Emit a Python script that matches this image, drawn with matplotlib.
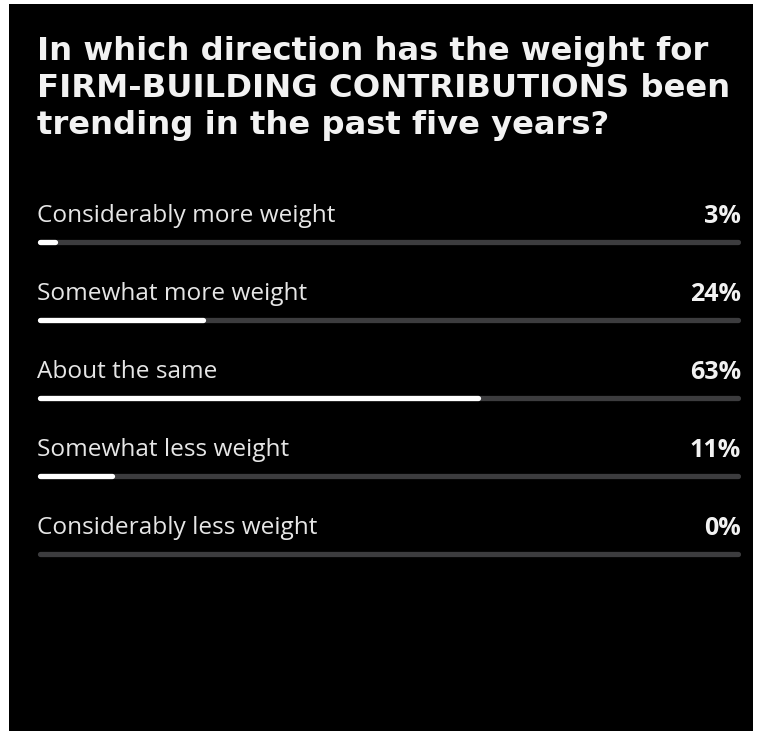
import matplotlib
matplotlib.use("Agg")
import matplotlib.pyplot as plt

# poll question and answers
title = ("In which direction has the weight for\n"
         "FIRM-BUILDING CONTRIBUTIONS been\n"
         "trending in the past five years?")
answers = ["Considerably more weight", "Somewhat more weight", "About the same",
           "Somewhat less weight", "Considerably less weight"]
shares = [3, 24, 63, 11, 0]

W, H = 759, 731
fig = plt.figure(figsize=(W / 100, H / 100), dpi=100)
fig.patch.set_facecolor("white")

# black card behind everything
bg = fig.add_axes([9 / W, 0, (753 - 9) / W, (731 - 4) / H])
bg.set_facecolor("black")
bg.set_xticks([])
bg.set_yticks([])
for s in bg.spines.values():
    s.set_visible(False)

fig.text(37 / W, 1 - 36 / H, title, color="#f2f2f2", fontsize=23.2,
         fontweight="bold", family="DejaVu Sans", va="top", ha="left",
         linespacing=1.245)

# bars area: track from x=37 to x=741 px, rows every 78 px starting at 242
top_px, bot_px = 242 - 78 * 0.6, 242 + 78 * 4.4
ax = fig.add_axes([37 / W, 1 - bot_px / H, (741 - 37) / W, (bot_px - top_px) / H])
ax.set_xlim(0, 100)
ax.set_ylim(4.4, -0.6)
ax.axis("off")

lw = 3.8
for i, (name, val) in enumerate(zip(answers, shares)):
    ax.plot([0.4, 99.6], [i, i], color="#3c3c3e", lw=lw, solid_capstyle="round",
            zorder=1)
    if val > 0:
        ax.plot([0.4, max(val - 0.4, 0.5)], [i, i], color="white", lw=lw,
                solid_capstyle="round", zorder=2)
    ax.text(0, i - 0.33, name, color="#e6e6e6", fontsize=17.6, family="Open Sans",
            va="center", ha="left")
    ax.text(100, i - 0.33, f"{val}%", color="#f2f2f2", fontsize=18,
            family="Open Sans", fontweight="bold", va="center", ha="right")

fig.savefig("out.png", dpi=100, facecolor=fig.get_facecolor())
